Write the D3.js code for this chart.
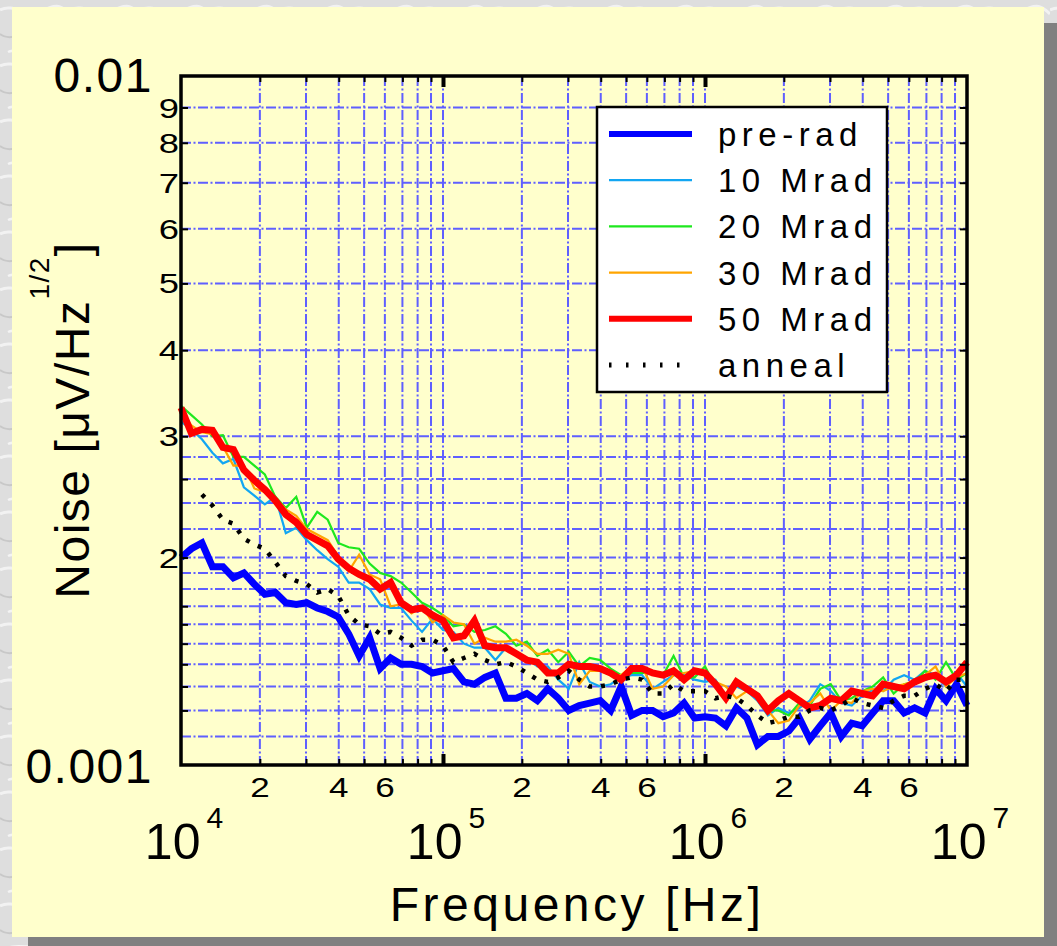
<!DOCTYPE html>
<html>
<head>
<meta charset="utf-8">
<script src="https://cdn.jsdelivr.net/npm/d3@7"></script>
<style>
  html, body { margin: 0; padding: 0; overflow: hidden; background: #d8d8d8; }
</style>
</head>
<body>
<div id="page"></div>
<script>

// frequency points [Hz]
var freq = [
  10000, 10960, 12020, 13180, 14450, 15850, 17380, 19050, 20890, 22910, 25120, 27540, 30200,
  33110, 36310, 39810, 43650, 47860, 52480, 57540, 63100, 69180, 75860, 83180, 91200,
  100000, 109600, 120200, 131800, 144500, 158500, 173800, 190500, 208900, 229100, 251200, 275400, 302000,
  331100, 363100, 398100, 436500, 478600, 524800, 575400, 631000, 691800, 758600, 831800, 912000,
  1000000, 1096000, 1202000, 1318000, 1445000, 1585000, 1738000, 1905000, 2089000, 2291000, 2512000, 2754000, 3020000,
  3311000, 3631000, 3981000, 4365000, 4786000, 5248000, 5754000, 6310000, 6918000, 7586000, 8318000, 9120000,
  10000000
];

// noise, in units of 0.001 uV/Hz^1/2
var preRad = [
  2.00, 2.06, 2.10, 1.94, 1.94, 1.87, 1.90, 1.83, 1.77, 1.78, 1.72, 1.71, 1.72, 1.69, 1.67, 1.64, 1.55, 1.44, 1.53, 1.38,
  1.43, 1.40, 1.40, 1.39, 1.36, 1.37,
  1.38, 1.32, 1.31, 1.34, 1.36, 1.25, 1.25, 1.27, 1.24, 1.29, 1.25, 1.20, 1.22, 1.23, 1.24, 1.20, 1.30, 1.18, 1.20, 1.20,
  1.175, 1.19, 1.23, 1.17, 1.175,
  1.17, 1.14, 1.21, 1.17, 1.07, 1.10, 1.10, 1.12, 1.17, 1.09, 1.14, 1.19, 1.10, 1.15, 1.14, 1.19, 1.24, 1.24, 1.19, 1.21,
  1.19, 1.29, 1.24, 1.31, 1.22
];
var mrad10 = [
  3.15, 3.07, 2.97, 2.84, 2.74, 2.78, 2.53, 2.46, 2.39, 2.45, 2.17, 2.21, 2.12, 2.05, 1.99, 1.94, 1.84, 1.84, 1.80, 1.71,
  1.69, 1.69, 1.62, 1.56, 1.63, 1.57,
  1.56, 1.50, 1.48, 1.48, 1.42, 1.48, 1.46, 1.43, 1.39, 1.39, 1.33, 1.29, 1.41, 1.32, 1.30, 1.31, 1.34, 1.35, 1.35, 1.29,
  1.32, 1.35, 1.35, 1.33, 1.32,
  1.33, 1.26, 1.30, 1.28, 1.24, 1.18, 1.21, 1.19, 1.21, 1.24, 1.31, 1.28, 1.23, 1.22, 1.26, 1.285, 1.28, 1.33, 1.35, 1.33,
  1.37, 1.35, 1.30, 1.36, 1.30
];
var mrad20 = [
  3.32, 3.22, 3.12, 3.00, 3.01, 2.80, 2.80, 2.72, 2.64, 2.45, 2.36, 2.45, 2.21, 2.33, 2.27, 2.10, 2.07, 2.06, 1.96, 1.90,
  1.88, 1.84, 1.78, 1.72, 1.69, 1.65,
  1.59, 1.60, 1.56, 1.57, 1.59, 1.55, 1.49, 1.51, 1.44, 1.47, 1.41, 1.46, 1.39, 1.43, 1.42, 1.38, 1.35, 1.36, 1.36, 1.36,
  1.35, 1.44, 1.34, 1.34, 1.39,
  1.30, 1.26, 1.32, 1.30, 1.27, 1.20, 1.20, 1.18, 1.23, 1.22, 1.29, 1.31, 1.24, 1.25, 1.28, 1.30, 1.34, 1.27, 1.31, 1.32,
  1.37, 1.33, 1.41, 1.33, 1.36
];
var mrad30 = [
  3.25, 3.11, 3.04, 3.02, 2.90, 2.72, 2.72, 2.52, 2.49, 2.44, 2.35, 2.30, 2.20, 2.16, 2.12, 2.01, 1.91, 2.02, 1.89, 1.86,
  1.70, 1.71, 1.66, 1.70, 1.61, 1.65,
  1.61, 1.60, 1.50, 1.53, 1.51, 1.51, 1.52, 1.49, 1.45, 1.45, 1.47, 1.45, 1.31, 1.37, 1.37, 1.35, 1.35, 1.39, 1.39, 1.29,
  1.30, 1.35, 1.36, 1.37, 1.35,
  1.32, 1.30, 1.25, 1.28, 1.26, 1.20, 1.15, 1.16, 1.22, 1.23, 1.27, 1.20, 1.24, 1.23, 1.28, 1.29, 1.28, 1.30, 1.31, 1.32,
  1.35, 1.39, 1.30, 1.34, 1.36
];
var mrad50 = [
  3.30, 3.03, 3.07, 3.06, 2.89, 2.87, 2.68, 2.59, 2.51, 2.42, 2.31, 2.25, 2.16, 2.12, 2.08, 1.99, 1.93, 1.89, 1.86, 1.80,
  1.84, 1.72, 1.68, 1.69, 1.65, 1.62,
  1.53, 1.54, 1.62, 1.49, 1.48, 1.48, 1.45, 1.42, 1.41, 1.36, 1.36, 1.40, 1.39, 1.39, 1.38, 1.36, 1.33, 1.38, 1.38, 1.36,
  1.35, 1.37, 1.33, 1.37, 1.36,
  1.31, 1.25, 1.32, 1.29, 1.26, 1.20, 1.24, 1.27, 1.24, 1.21, 1.22, 1.25, 1.24, 1.28, 1.27, 1.26, 1.31, 1.30, 1.29, 1.32,
  1.34, 1.35, 1.32, 1.35, 1.41
];
var anneal = [
  null, null, 2.47, 2.38, 2.27, 2.24, 2.13, 2.09, 2.06, 1.97, 1.88, 1.85, 1.83, 1.78, 1.80, 1.76, 1.65, 1.60, 1.59, 1.55,
  1.56, 1.53, 1.49, 1.52, 1.52, 1.49,
  1.41, 1.43, 1.45, 1.42, 1.40, 1.41, 1.39, 1.36, 1.33, 1.32, 1.34, 1.37, 1.33, 1.30, 1.30, 1.31, 1.33, 1.34, 1.33, 1.27,
  1.27, 1.31, 1.28, 1.28, 1.28,
  1.25, 1.26, 1.25, 1.22, 1.18, 1.15, 1.16, 1.175, 1.175, 1.20, 1.21, 1.20, 1.22, 1.25, 1.23, 1.22, 1.21, 1.24, 1.26, 1.26,
  1.29, 1.31, 1.28, 1.33, 1.33
];

var seriesNames  = ["pre-rad", "10 Mrad", "20 Mrad", "30 Mrad", "50 Mrad", "anneal"];
var seriesValues = [preRad, mrad10, mrad20, mrad30, mrad50, anneal];
var seriesColors = ["#0000ff", "#12a6f2", "#1ee81e", "#ffa500", "#ff0000", "#000000"];
var seriesWidths = [7, 2.2, 2.2, 2.2, 7, 4.5];
var drawOrder = [1, 2, 3, 0, 4, 5];

var xDecades = [4, 5, 6, 7];
var xMinorLabels = [2, 4, 6];
var yMinorLabels = [2, 3, 4, 5, 6, 7, 8, 9];
var yGrid = [1.1, 1.2, 1.3, 1.4, 1.5, 1.6, 1.7, 1.8, 1.9, 2, 2.2, 2.4, 2.6, 2.8, 3, 4, 5, 6, 7, 8, 9];
var yTicksExtra = [1.2, 1.3, 1.4, 1.5, 1.6, 1.7, 2.6];
var yEndLabels = [{v: 10, t: "0.01"}, {v: 1, t: "0.001"}];


var W = 1057, H = 946,
    FONT = "'Liberation Sans', Arial, Helvetica, sans-serif",
    GRID = "#5f5fff";

var svg = d3.select("#page").append("svg")
    .attr("width", W).attr("height", H)
    .style("display", "block");

// marble-ish border texture
var defs = svg.append("defs");
var pat = defs.append("pattern").attr("id", "marble")
    .attr("width", 70).attr("height", 56).attr("patternUnits", "userSpaceOnUse");
pat.append("rect").attr("width", 70).attr("height", 56).attr("fill", "#dedede");
pat.append("path").attr("d", "M0,10 C15,2 25,20 40,12 S60,4 70,14").attr("stroke", "#f2f2f2").attr("stroke-width", 3).attr("fill", "none");
pat.append("path").attr("d", "M0,34 C12,44 30,26 46,38 S62,48 70,36").attr("stroke", "#c8c8c8").attr("stroke-width", 2).attr("fill", "none");
pat.append("path").attr("d", "M8,52 C20,46 34,56 52,48").attr("stroke", "#f4f4f4").attr("stroke-width", 2.5).attr("fill", "none");
pat.append("path").attr("d", "M20,24 C26,20 32,28 38,22").attr("stroke", "#c2c2c2").attr("stroke-width", 1.5).attr("fill", "none");

svg.append("rect").attr("width", W).attr("height", H).attr("fill", "url(#marble)");
svg.append("rect").attr("x", 28).attr("y", 23).attr("width", W).attr("height", H).attr("fill", "#808080");
svg.append("rect").attr("x", 12).attr("y", 7).attr("width", 1032).attr("height", 930).attr("fill", "#ffffcc");

var x = d3.scaleLog().domain([1e4, 1e7]).range([181, 967]),
    y = d3.scaleLog().domain([1, 10]).range([765, 76]);

var plot = svg.append("g");

// grid
var xGrid = x.ticks().filter(function(d) { return d > 1e4 && d < 1e7; });
plot.selectAll("line.vgrid").data(xGrid).enter().append("line")
    .attr("x1", function(d) { return x(d); }).attr("x2", function(d) { return x(d); })
    .attr("y1", y(10)).attr("y2", y(1))
    .attr("stroke", GRID).attr("stroke-width", 2)
    .attr("stroke-dasharray", "10,2.5,2,2.5");
plot.selectAll("line.hgrid").data(yGrid).enter().append("line")
    .attr("x1", x(1e4)).attr("x2", x(1e7))
    .attr("y1", function(d) { return y(d); }).attr("y2", function(d) { return y(d); })
    .attr("stroke", GRID).attr("stroke-width", 2)
    .attr("stroke-dasharray", "10,2.5,2,2.5");

// data lines
var line = d3.line()
    .defined(function(d) { return d[1] != null; })
    .x(function(d) { return x(d[0]); })
    .y(function(d) { return y(d[1]); });

drawOrder.forEach(function(i) {
  var pts = freq.map(function(f, k) { return [f, seriesValues[i][k]]; });
  plot.append("path").datum(pts)
      .attr("d", line)
      .attr("fill", "none")
      .attr("stroke", seriesColors[i])
      .attr("stroke-width", seriesWidths[i])
      .attr("stroke-linejoin", "miter")
      .attr("stroke-dasharray", i == 5 ? "4,9" : null);
});

// ticks (inward, all four sides)
var minorX = xGrid.filter(function(d) { return Math.abs(Math.log10(d) % 1) > 1e-6; });
var majorX = xGrid.filter(function(d) { return Math.abs(Math.log10(d) % 1) < 1e-6; });
function xAxisTicks(gen, ty, vals, size, width) {
  var g = svg.append("g").attr("transform", "translate(0," + ty + ")")
      .call(gen(x).tickValues(vals).tickSize(size).tickFormat(""));
  g.select(".domain").remove();
  g.selectAll("line").attr("stroke", "#000").attr("stroke-width", width);
}
xAxisTicks(d3.axisBottom, y(1), minorX, -6, 2);
xAxisTicks(d3.axisBottom, y(1), majorX, -11, 4);
xAxisTicks(d3.axisTop, y(10), minorX, -6, 2);
xAxisTicks(d3.axisTop, y(10), majorX, -11, 4);

var yTickVals = yMinorLabels.concat(yTicksExtra);
function yAxisTicks(gen, tx) {
  var g = svg.append("g").attr("transform", "translate(" + tx + ",0)")
      .call(gen(y).tickValues(yTickVals).tickSize(-7).tickFormat(""));
  g.select(".domain").remove();
  g.selectAll("line").attr("stroke", "#000").attr("stroke-width", 2);
}
yAxisTicks(d3.axisLeft, x(1e4));
yAxisTicks(d3.axisRight, x(1e7));

// frame
svg.append("rect")
    .attr("x", x(1e4)).attr("y", y(10))
    .attr("width", x(1e7) - x(1e4)).attr("height", y(1) - y(10))
    .attr("fill", "none").attr("stroke", "#000").attr("stroke-width", 3.5);

// x labels
var xMinorVals = [];
xDecades.slice(0, 3).forEach(function(p) {
  xMinorLabels.forEach(function(m) { xMinorVals.push(m * Math.pow(10, p)); });
});
svg.selectAll("text.xminor").data(xMinorVals).enter().append("text")
    .attr("transform", function(d) { return "translate(" + x(d) + ",797) scale(1.25,1)"; })
    .attr("text-anchor", "middle")
    .style("font-family", FONT).style("font-size", "28px")
    .text(function(d) { return d / Math.pow(10, Math.floor(Math.log10(d) + 1e-9)); });

var xMajor = svg.selectAll("text.xmajor").data(xDecades).enter().append("text")
    .attr("x", function(d) { return x(Math.pow(10, d)) + 3; })
    .attr("y", 859)
    .attr("text-anchor", "middle")
    .style("font-family", FONT).style("font-size", "50px");
xMajor.append("tspan").text("10");
xMajor.append("tspan").attr("dx", 6).attr("dy", -31).style("font-size", "30px")
    .text(function(d) { return d; });

// y labels
svg.selectAll("text.yminor").data(yMinorLabels).enter().append("text")
    .attr("transform", function(d) { return "translate(179," + (y(d) + 10) + ") scale(1.3,1)"; })
    .attr("text-anchor", "end")
    .style("font-family", FONT).style("font-size", "28px")
    .text(function(d) { return d; });

svg.selectAll("text.yend").data(yEndLabels).enter().append("text")
    .attr("x", 153)
    .attr("y", function(d) { return d.v == 10 ? 92 : 783; })
    .attr("text-anchor", "end")
    .style("font-family", FONT).style("font-size", "48px")
    .style("letter-spacing", "1.5px")
    .text(function(d) { return d.t; });

// axis titles
svg.append("text")
    .attr("x", 577).attr("y", 921)
    .attr("text-anchor", "middle")
    .style("font-family", FONT).style("font-size", "48px")
    .style("letter-spacing", "3.5px")
    .text("Frequency [Hz]");

var yt = svg.append("text")
    .attr("transform", "translate(89,420) rotate(-90)")
    .attr("text-anchor", "middle")
    .style("font-family", FONT).style("font-size", "48px")
    .style("letter-spacing", "1.5px");
yt.append("tspan").text("Noise [\u03bcV/Hz");
yt.append("tspan").attr("dy", -40).style("font-size", "28px").text("1/2");
yt.append("tspan").attr("dy", 40).text("]");

// legend
var leg = svg.append("g");
leg.append("rect")
    .attr("x", 597).attr("y", 107).attr("width", 290).attr("height", 285)
    .attr("fill", "#fff").attr("stroke", "#000").attr("stroke-width", 2.5);
var rows = leg.selectAll("g.row").data(seriesNames).enter().append("g")
    .attr("transform", function(d, i) { return "translate(0," + (134 + i * 46.2) + ")"; });
rows.append("line")
    .attr("x1", 609).attr("x2", function(d, i) { return i == 5 ? 682 : 692; })
    .attr("y1", 0).attr("y2", 0)
    .attr("stroke", function(d, i) { return seriesColors[i]; })
    .attr("stroke-width", function(d, i) { return i == 5 ? 5 : Math.min(seriesWidths[i], 6); })
    .attr("stroke-dasharray", function(d, i) { return i == 5 ? "2.5,14.5" : null; });
rows.append("text")
    .attr("x", 718).attr("y", 12)
    .style("font-family", FONT).style("font-size", "33px")
    .style("letter-spacing", "5.5px")
    .text(function(d) { return d; });

</script>
</body>
</html>
